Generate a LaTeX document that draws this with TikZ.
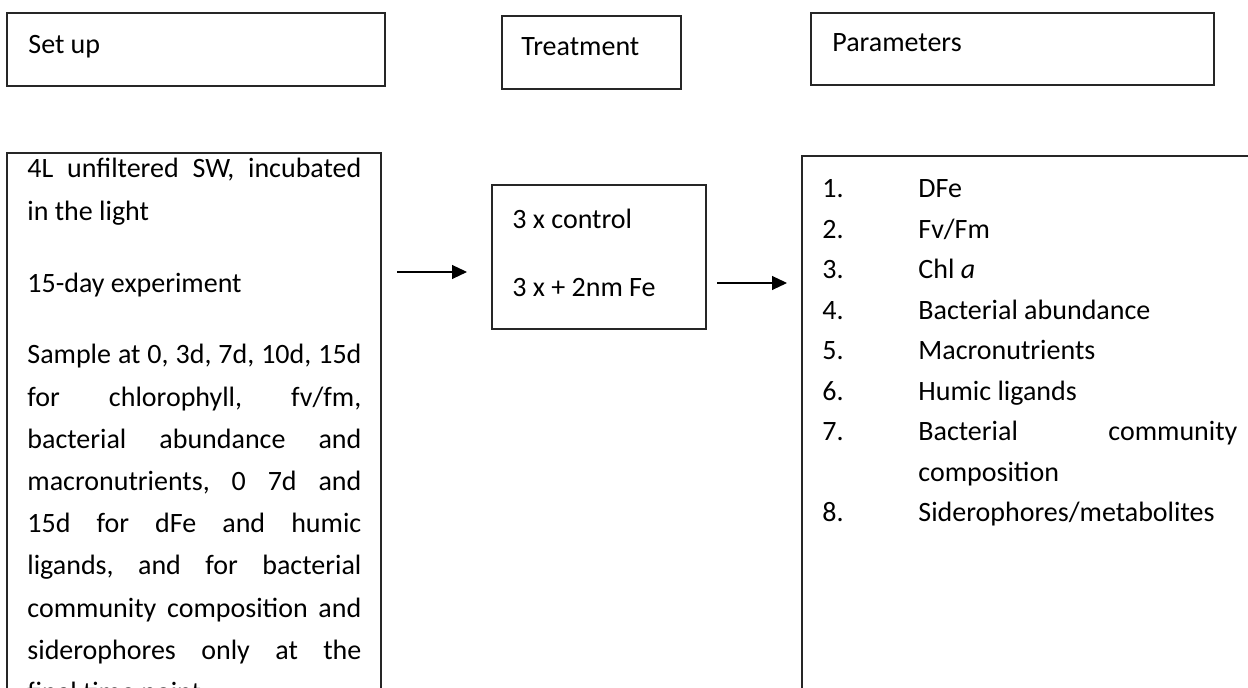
\documentclass[tikz,border=0pt]{standalone}
\usepackage{fontspec}
\setmainfont{Carlito}
\usetikzlibrary{arrows.meta}
\tikzset{
  frame/.style={draw=black!85,line width=0.7pt},
  txt/.style={inner sep=0pt,anchor=base west,font=\fontsize{14pt}{21.1pt}\selectfont},
  para/.style={txt,align=justify,execute at begin node={\frenchspacing\hyphenpenalty=10000\tolerance=10000\parskip=14.85pt}},
  arr/.style={-{Triangle[length=7.5pt,width=7pt]},line width=0.55pt},
}
\begin{document}
\begin{tikzpicture}[x=0.5pt,y=-0.5pt]
\clip (0,0) rectangle (1248,688);
% heading boxes
\draw[frame] (7,13) rectangle (385,86);
\draw[frame] (502,16) rectangle (681,89);
\draw[frame] (811,13) rectangle (1214,85);
\node[txt] (setup) at (28,54) {Set up};
\node[txt] (treat) at (521,56) {Treatment};
\node[txt] (param) at (832,52) {Parameters};
% lower boxes
\draw[frame] (7,153) rectangle (381,730);
\draw[frame] (492,185) rectangle (706,329);
\draw[frame] (802,156) rectangle (1270,730);
\node[para,text width=167pt] (setuptxt) at (27,178) {4L unfiltered SW, incubated\linebreak in the light\par
  15-day experiment\par
  Sample at 0, 3d, 7d, 10d, 15d\linebreak for chlorophyll, fv/fm,\linebreak bacterial abundance and\linebreak
  macronutrients, 0 7d and\linebreak 15d for dFe and humic\linebreak ligands, and for bacterial\linebreak
  community composition and\linebreak siderophores only at the\linebreak final time point.\par};
\node[txt] (ctrl) at (512,229) {3 x control};
\node[txt] (fe) at (512,297) {3 x + 2nm Fe};
\foreach \n/\y/\t in {1/198/DFe,2/238.5/{Fv/Fm},3/279/{Chl \textit{a}},4/319.5/Bacterial abundance,
  5/360/Macronutrients,6/400.5/Humic ligands,7/441/{Bacterial community\linebreak composition},
  8/522/{Siderophores/metabolites}}{
  \node[txt] (num\n) at (822,\y) {\n.};
  \node[para,text width=159.5pt,font=\fontsize{14pt}{20.25pt}\selectfont] (item\n) at (918,\y) {\t};
}
% arrows
\coordinate (a1) at (397,272);
\coordinate (a2) at (467,272);
\coordinate (b1) at (717,283);
\coordinate (b2) at (787,283);
\draw[arr] (a1) -- (a2);
\draw[arr] (b1) -- (b2);
\end{tikzpicture}
\end{document}
